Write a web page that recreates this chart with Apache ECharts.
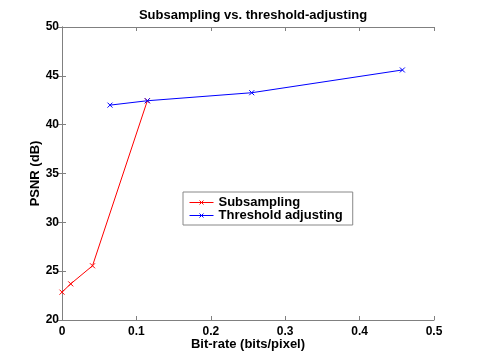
<!DOCTYPE html>
<html><head><meta charset="utf-8">
<script src="https://cdn.jsdelivr.net/npm/echarts@6/dist/echarts.min.js"></script>
<style>html,body{margin:0;padding:0;background:#fff}#c{width:480px;height:360px}</style>
</head><body><div id="c"></div>
<script>
const xTicks = [0, 0.1, 0.2, 0.3, 0.4, 0.5];
const yTicks = [20, 25, 30, 35, 40, 45, 50];
const subX = [0.0, 0.0117, 0.041, 0.1147];
const subY = [22.85, 23.7, 25.55, 42.45];
const thrX = [0.0645, 0.1147, 0.255, 0.4575];
const thrY = [42.0, 42.45, 43.27, 45.6];

const xMark = 'path://M0,0L10,10M10,0L0,10';
const font = 'Liberation Sans';
const chart = echarts.init(document.getElementById('c'));
function axisCommon(show){
  return {
    axisLine:{show:true, lineStyle:{color:'#808080', width:1}},
    axisTick:{show:true, inside:true, length:4, lineStyle:{color:'#808080'}},
    splitLine:{show:false},
    axisLabel:{show:show, color:'#000', fontFamily:font, fontWeight:'bold', fontSize:12}
  };
}
chart.setOption({
  animation:false,
  backgroundColor:'#fff',
  title:{text:'Subsampling vs. threshold-adjusting', left:248, top:4, textAlign:'center',
    textStyle:{fontFamily:font, fontWeight:'bold', fontSize:13, color:'#000'}},
  grid:{left:62, top:27, right:46, bottom:40},
  legend:{left:183, top:192, orient:'vertical', itemWidth:24, itemHeight:5, itemGap:0,
    borderColor:'#888', borderWidth:1, padding:[4,10,3,6],
    lineStyle:{width:1}, itemStyle:{borderWidth:1},
    textStyle:{fontFamily:font, fontWeight:'bold', fontSize:13, color:'#000'},
    data:['Subsampling','Threshold adjusting']},
  xAxis:[
    Object.assign({type:'value', min:0, max:0.5, interval:0.1, name:'Bit-rate (bits/pixel)', nameLocation:'middle', nameGap:18,
      nameMoveOverlap:false,
      nameTextStyle:{fontFamily:font, fontWeight:'bold', fontSize:13, color:'#000'}}, axisCommon(true),
      {axisLabel:{color:'#000', fontFamily:font, fontWeight:'bold', fontSize:12, margin:6, formatter:v=>String(v)}}),
    Object.assign({type:'value', position:'top', min:0, max:0.5, interval:0.1}, axisCommon(false))
  ],
  yAxis:[
    Object.assign({type:'value', min:20, max:50, interval:5, name:'PSNR (dB)', nameLocation:'middle', nameGap:20,
      nameMoveOverlap:false,
      nameTextStyle:{fontFamily:font, fontWeight:'bold', fontSize:13, color:'#000'}}, axisCommon(true),
      {axisLabel:{color:'#000', fontFamily:font, fontWeight:'bold', fontSize:12, margin:3}}),
    Object.assign({type:'value', position:'right', min:20, max:50, interval:5}, axisCommon(false))
  ],
  series:[
    {name:'Subsampling', type:'line', data:subX.map((x,i)=>[x,subY[i]]), symbol:xMark, symbolSize:5,
      lineStyle:{color:'#ff0000', width:1}, itemStyle:{color:'transparent', borderColor:'#ff0000', borderWidth:1}},
    {name:'Threshold adjusting', type:'line', data:thrX.map((x,i)=>[x,thrY[i]]), symbol:xMark, symbolSize:5,
      lineStyle:{color:'#0000ff', width:1}, itemStyle:{color:'transparent', borderColor:'#0000ff', borderWidth:1}}
  ]
});
</script></body></html>
